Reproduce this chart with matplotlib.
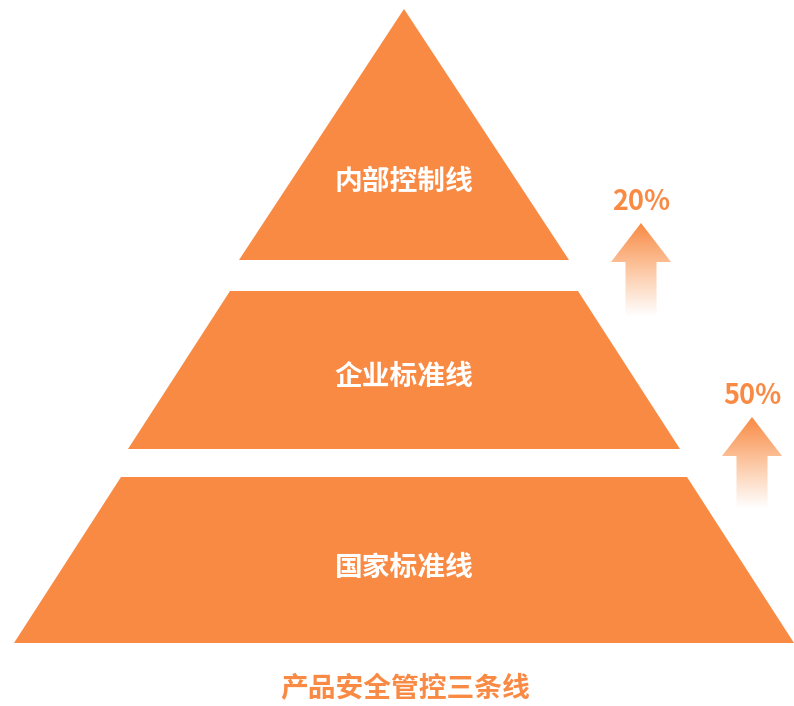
import numpy as np
import matplotlib
matplotlib.use("Agg")
import matplotlib.pyplot as plt
from matplotlib.patches import Polygon
from matplotlib.colors import LinearSegmentedColormap

plt.rcParams['font.family'] = ['Noto Sans CJK SC', 'DejaVu Sans']

# -----------------------------
# Data
# -----------------------------
layer_labels = ["内部控制线", "企业标准线", "国家标准线"]
layer_top = [9, 291, 477]            # y of each layer's top edge
layer_bottom = [260, 449, 643]       # y of each layer's bottom edge
layer_top_half = [0, 174, 283]       # half width at top
layer_bottom_half = [165, 276, 390]  # half width at bottom
label_y = [182, 377, 568]

growth_labels = ["20%", "50%"]
arrow_x = [641, 752]
arrow_tip = [223, 417]
arrow_end = [316, 508]
caption = "产品安全管控三条线"

orange = "#F98A44"
cx = 404

# -----------------------------
# Figure
# -----------------------------
fig = plt.figure(figsize=(7.94, 7.06), dpi=100)
ax = fig.add_axes([0, 0, 1, 1])
ax.set_xlim(0, 794)
ax.set_ylim(706, 0)
ax.axis('off')

for lab, yt, yb, ht, hb, ly in zip(layer_labels, layer_top, layer_bottom,
                                   layer_top_half, layer_bottom_half, label_y):
    pts = [(cx - ht, yt), (cx + ht, yt), (cx + hb, yb), (cx - hb, yb)]
    ax.add_patch(Polygon(pts, closed=True, facecolor=orange, edgecolor='none'))
    ax.text(cx, ly, lab, color='white', fontsize=20, fontweight='bold',
            ha='center', va='center')

# gradient arrows
cmap = LinearSegmentedColormap.from_list("fade", [orange, "#FCC7A2", "#FFFFFF"])
for lab, x, tip, end in zip(growth_labels, arrow_x, arrow_tip, arrow_end):
    head_w, shaft_w, head_h = 30, 15.5, 39
    pts = [(x, tip), (x + head_w, tip + head_h), (x + shaft_w, tip + head_h),
           (x + shaft_w, end), (x - shaft_w, end), (x - shaft_w, tip + head_h),
           (x - head_w, tip + head_h)]
    poly = Polygon(pts, closed=True, facecolor='none', edgecolor='none')
    ax.add_patch(poly)
    grad = np.linspace(0, 1, 256).reshape(-1, 1)
    im = ax.imshow(grad, cmap=cmap, aspect='auto',
                   extent=[x - head_w, x + head_w, end, tip], origin='upper')
    im.set_clip_path(poly)
    ax.text(x, tip - 21, lab, color=orange, fontsize=19.5, fontweight='bold',
            ha='center', va='center')

ax.set_xlim(0, 794)
ax.set_ylim(706, 0)

ax.text(cx + 1, 689, caption, color=orange, fontsize=20, fontweight='bold',
        ha='center', va='center')

plt.savefig("out.png", dpi=100)
